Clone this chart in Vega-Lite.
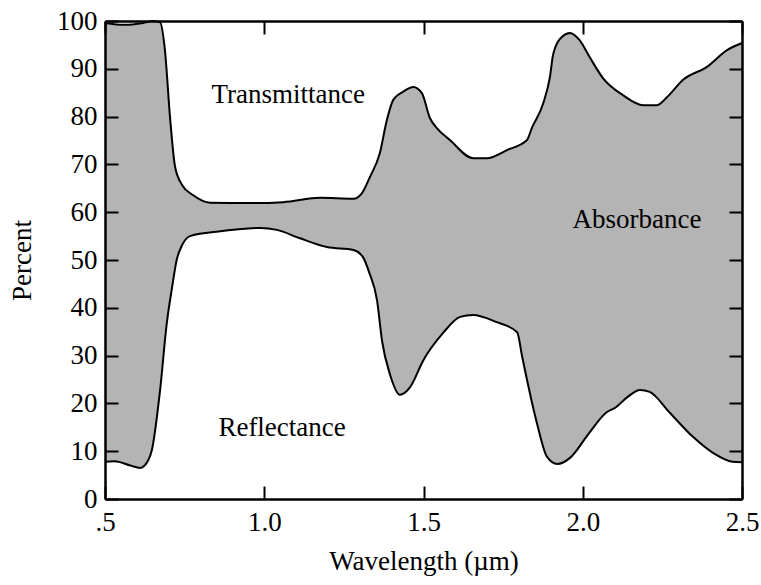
{
  "$schema": "https://vega.github.io/schema/vega-lite/v6.json",
  "width": 637,
  "height": 478,
  "autosize": "none",
  "padding": {"left": 105, "top": 21, "right": 19, "bottom": 86},
  "background": "white",
  "config": {"view": {"stroke": null}, "font": "Liberation Serif, Times New Roman, serif"},
  "datasets": {
    "upper": [
      {"w": 0.5, "v": 99.6}, {"w": 0.56, "v": 99.2}, {"w": 0.62, "v": 99.6}, {"w": 0.65, "v": 100},
      {"w": 0.673, "v": 99.7}, {"w": 0.688, "v": 94}, {"w": 0.704, "v": 80}, {"w": 0.72, "v": 69.5},
      {"w": 0.742, "v": 65.7}, {"w": 0.776, "v": 63.6}, {"w": 0.83, "v": 62.0}, {"w": 0.955, "v": 61.9},
      {"w": 1.06, "v": 62.1}, {"w": 1.175, "v": 63.0}, {"w": 1.28, "v": 62.8}, {"w": 1.307, "v": 64},
      {"w": 1.332, "v": 67.4}, {"w": 1.363, "v": 72.4}, {"w": 1.385, "v": 79.3}, {"w": 1.405, "v": 83.5},
      {"w": 1.436, "v": 85.2}, {"w": 1.468, "v": 86.2}, {"w": 1.495, "v": 84.9}, {"w": 1.52, "v": 79.7},
      {"w": 1.542, "v": 77.6}, {"w": 1.583, "v": 75.1}, {"w": 1.656, "v": 71.3}, {"w": 1.699, "v": 71.3},
      {"w": 1.762, "v": 73.0}, {"w": 1.825, "v": 75.1}, {"w": 1.84, "v": 77.6}, {"w": 1.876, "v": 82.8},
      {"w": 1.897, "v": 88.3}, {"w": 1.907, "v": 93}, {"w": 1.935, "v": 96.7}, {"w": 1.96, "v": 97.5},
      {"w": 1.99, "v": 96.0}, {"w": 2.023, "v": 92.3}, {"w": 2.064, "v": 88.0}, {"w": 2.126, "v": 84.5},
      {"w": 2.19, "v": 82.4}, {"w": 2.233, "v": 82.4}, {"w": 2.265, "v": 84.1}, {"w": 2.315, "v": 87.7},
      {"w": 2.39, "v": 90.4}, {"w": 2.453, "v": 93.9}, {"w": 2.5, "v": 95.4}
    ],
    "lower": [
      {"w": 0.5, "v": 7.8}, {"w": 0.53, "v": 7.9}, {"w": 0.58, "v": 7.0}, {"w": 0.61, "v": 6.5},
      {"w": 0.635, "v": 8.0}, {"w": 0.647, "v": 10.2}, {"w": 0.673, "v": 22.8}, {"w": 0.694, "v": 36.8},
      {"w": 0.71, "v": 44}, {"w": 0.725, "v": 50}, {"w": 0.742, "v": 53.1}, {"w": 0.767, "v": 55.0},
      {"w": 0.85, "v": 55.9}, {"w": 0.987, "v": 56.7}, {"w": 1.04, "v": 56.3}, {"w": 1.11, "v": 54.6},
      {"w": 1.197, "v": 52.7}, {"w": 1.28, "v": 52.1}, {"w": 1.31, "v": 50.6}, {"w": 1.33, "v": 47.3},
      {"w": 1.354, "v": 41.6}, {"w": 1.37, "v": 33}, {"w": 1.395, "v": 26}, {"w": 1.426, "v": 21.8},
      {"w": 1.458, "v": 23.4}, {"w": 1.5, "v": 29.1}, {"w": 1.561, "v": 34.7}, {"w": 1.615, "v": 38.1},
      {"w": 1.655, "v": 38.5}, {"w": 1.73, "v": 37.0}, {"w": 1.794, "v": 34.9}, {"w": 1.81, "v": 29.7},
      {"w": 1.856, "v": 15.9}, {"w": 1.888, "v": 8.8}, {"w": 1.92, "v": 7.3}, {"w": 1.96, "v": 8.6},
      {"w": 2.02, "v": 13.8}, {"w": 2.076, "v": 18.2}, {"w": 2.1, "v": 19.0}, {"w": 2.14, "v": 21.3},
      {"w": 2.18, "v": 22.8}, {"w": 2.21, "v": 22.4}, {"w": 2.274, "v": 18.0}, {"w": 2.346, "v": 13.0},
      {"w": 2.41, "v": 9.6}, {"w": 2.47, "v": 7.8}, {"w": 2.5, "v": 7.7}
    ],
    "labels": [
      {"w": 1.075, "v": 84.5, "t": "Transmittance"},
      {"w": 2.17, "v": 58.4, "t": "Absorbance"},
      {"w": 1.056, "v": 14.9, "t": "Reflectance"}
    ]
  },
  "resolve": {"axis": {"x": "independent", "y": "independent"}},
  "layer": [
    {
      "data": {"name": "upper"},
      "mark": {"type": "area", "interpolate": "monotone", "color": "#b4b4b4"},
      "encoding": {
        "x": {"field": "w", "type": "quantitative", "scale": {"domain": [0.5, 2.5], "nice": false, "zero": false},
          "axis": {"orient": "bottom", "values": [0.5, 1, 1.5, 2, 2.5],
            "labelExpr": "datum.value == 0.5 ? '.5' : format(datum.value, '.1f')",
            "tickSize": -13, "tickWidth": 2, "tickColor": "black", "labelPadding": 23,
            "domainColor": "black", "domainWidth": 2.5, "labelFontSize": 27,
            "labelColor": "black", "labelFlush": false, "labelOverlap": false,
            "title": "Wavelength (µm)", "titleFontSize": 27,
            "titleFontWeight": "normal", "titleColor": "black", "titlePadding": 13, "grid": false, "zindex": 1}},
        "y": {"field": "v", "type": "quantitative", "scale": {"domain": [0, 100], "nice": false},
          "axis": {"orient": "left", "values": [0, 10, 20, 30, 40, 50, 60, 70, 80, 90, 100],
            "tickSize": -13, "tickWidth": 2, "tickColor": "black", "labelPadding": 21,
            "domainColor": "black", "domainWidth": 2.5, "labelFontSize": 27,
            "labelColor": "black", "labelFlush": false, "labelOverlap": false,
            "title": "Percent", "titleFontSize": 27,
            "titleFontWeight": "normal", "titleColor": "black", "titlePadding": 20, "grid": false, "zindex": 1}}
      }
    },
    {
      "data": {"name": "lower"},
      "mark": {"type": "area", "interpolate": "monotone", "color": "white"},
      "encoding": {
        "x": {"field": "w", "type": "quantitative",
          "axis": {"orient": "top", "values": [0.5, 1, 1.5, 2, 2.5], "labels": false, "title": null,
            "tickSize": -13, "tickWidth": 2, "tickColor": "black", "domainColor": "black", "domainWidth": 2.5,
            "grid": false, "zindex": 1}},
        "y": {"field": "v", "type": "quantitative",
          "axis": {"orient": "right", "values": [0, 10, 20, 30, 40, 50, 60, 70, 80, 90, 100], "labels": false, "title": null,
            "tickSize": -13, "tickWidth": 2, "tickColor": "black", "domainColor": "black", "domainWidth": 2.5,
            "grid": false, "zindex": 1}}
      }
    },
    {
      "data": {"name": "upper"},
      "mark": {"type": "line", "interpolate": "monotone", "color": "black", "strokeWidth": 2},
      "encoding": {
        "x": {"field": "w", "type": "quantitative", "axis": null},
        "y": {"field": "v", "type": "quantitative", "axis": null}
      }
    },
    {
      "data": {"name": "lower"},
      "mark": {"type": "line", "interpolate": "monotone", "color": "black", "strokeWidth": 2},
      "encoding": {
        "x": {"field": "w", "type": "quantitative", "axis": null},
        "y": {"field": "v", "type": "quantitative", "axis": null}
      }
    },
    {
      "data": {"name": "labels"},
      "mark": {"type": "text", "fontSize": 27, "color": "black", "align": "center", "baseline": "middle"},
      "encoding": {
        "x": {"field": "w", "type": "quantitative", "axis": null},
        "y": {"field": "v", "type": "quantitative", "axis": null},
        "text": {"field": "t", "type": "nominal"}
      }
    }
  ]
}
